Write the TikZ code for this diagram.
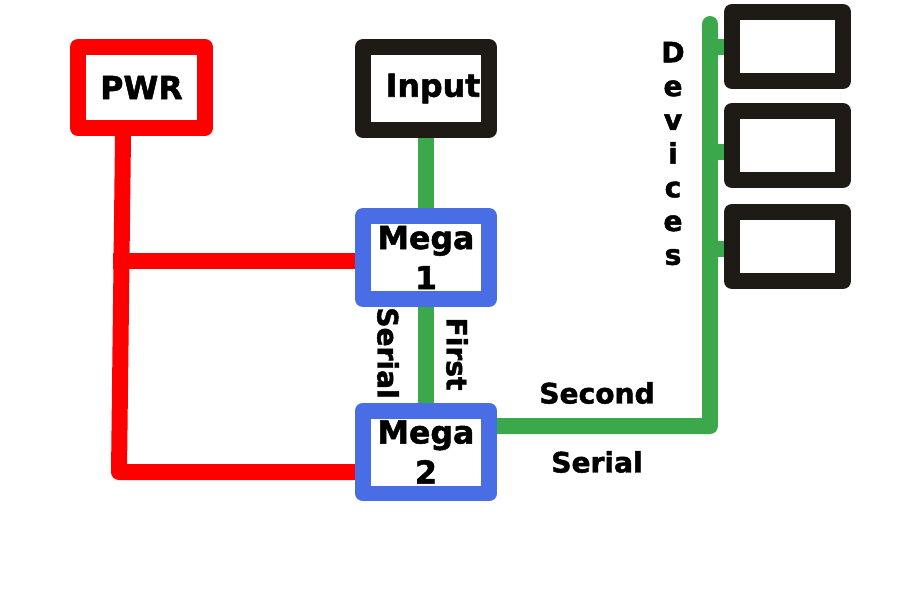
\documentclass[tikz,border=0pt]{standalone}
\usepackage{fontspec}
\setmainfont{DejaVu Sans}
\newfontfamily\heavyfont{DejaVu Sans Bold}[FakeBold=1.6]
\usetikzlibrary{backgrounds,calc}
\definecolor{pwrred}{RGB}{255,0,0}
\definecolor{megablue}{RGB}{73,109,228}
\definecolor{wiregreen}{RGB}{59,168,76}
\definecolor{boxblack}{RGB}{30,26,22}
\begin{document}
\begin{tikzpicture}[x=0.02cm,y=-0.02cm,
  box/.style={draw, line width=9.1pt, line join=round, inner sep=0pt, fill=white,
    align=center, font=\fontsize{18}{22.8}\selectfont\heavyfont},
  bigbox/.style={box, minimum width=2.52cm, minimum height=1.66cm},
  devbox/.style={box, draw=boxblack, minimum width=2.22cm, minimum height=1.38cm},
  redwire/.style={line width=9.1pt, draw=pwrred, line join=round},
  greenwire/.style={line width=9.1pt, draw=wiregreen, line join=round, line cap=round},
  tickwire/.style={line width=9.1pt, draw=wiregreen},
  lbl/.style={font=\fontsize{16}{19.2}\selectfont\heavyfont, inner sep=0pt, align=center}
]
\useasboundingbox (0,0) rectangle (900,600);
\begin{scope}[on background layer]
  \fill[white] (0,0) rectangle (900,600);
\end{scope}

% boxes
\node[bigbox, draw=pwrred, minimum width=2.54cm, minimum height=1.62cm] (pwr) at (141.5,87.5) {PWR};
\node[bigbox, draw=boxblack] (input) at (426,88.5) {\hspace{8pt}Input};
\node[bigbox, draw=megablue] (mega1) at (426,257.5) {Mega\\1};
\node[bigbox, draw=megablue] (mega2) at (426,452) {Mega\\2};
\node[devbox] (d1) at (787.5,46.5) {};
\node[devbox] (d2) at (787.5,145.5) {};
\node[devbox] (d3) at (787.5,246.5) {};

\coordinate (pbot) at (119,472);
\coordinate (gc) at (710,426);
\coordinate (gt) at (710,24);

% connectors
\begin{scope}[on background layer]
  \draw[redwire] ([xshift=-0.37cm]pwr.south) -- (pbot) -- (pbot -| mega2.west);
  \draw[redwire] ([yshift=-0.06cm]mega1.west) -- ++(-242,0);
  \draw[greenwire] (input.south) -- (mega1.north);
  \draw[greenwire] (mega1.south) -- (mega2.north);
  \draw[greenwire] ([yshift=0.52cm]mega2.east) -- (gc) -- (gt);
\end{scope}
\draw[tickwire] ([yshift=-0.01cm]d1.west) -- ([yshift=-0.01cm]d1.west -| gt);
\draw[tickwire] ([yshift=-0.13cm]d2.west) -- ([yshift=-0.13cm]d2.west -| gt);
\draw[tickwire] ([yshift=-0.05cm]d3.west) -- ([yshift=-0.05cm]d3.west -| gt);

% labels
\node[lbl] (dev) at (673,153.5) {D\\e\\v\\i\\c\\e\\s};
\node[lbl, rotate=-90] (ser1) at (388,353) {Serial};
\node[lbl, rotate=-90] (first) at (457,354) {First};
\node[lbl] (second) at (597,393) {Second};
\node[lbl] (ser2) at (597,462) {Serial};
\end{tikzpicture}
\end{document}
